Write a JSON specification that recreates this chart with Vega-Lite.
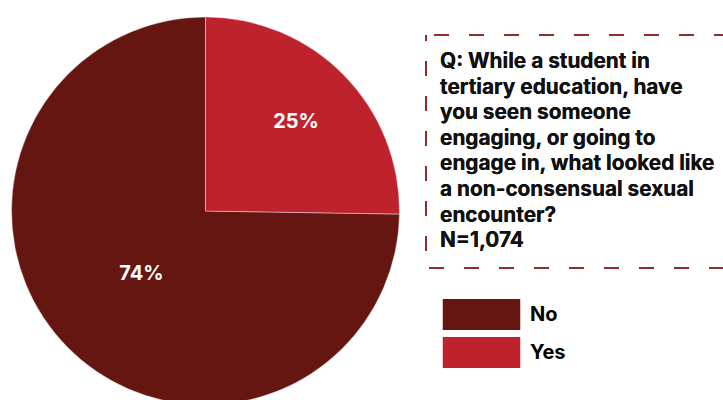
{
  "$schema": "https://vega.github.io/schema/vega-lite/v6.json",
  "width": 723,
  "height": 400,
  "autosize": {"type": "none"},
  "padding": 0,
  "background": "#ffffff",
  "config": {"view": {"stroke": null}},
  "data": {"values": [
    {"category": "No", "value": 0.74},
    {"category": "Yes", "value": 0.25}
  ]},
  "layer": [
    {
      "mark": {"type": "arc", "outerRadius": 194, "x": 205.5, "y": 211, "stroke": "#ffffff", "strokeWidth": 0.4},
      "encoding": {
        "theta": {"field": "value", "type": "quantitative", "stack": true},
        "order": {"field": "category", "sort": "descending"},
        "color": {
          "field": "category", "type": "nominal",
          "scale": {"domain": ["No", "Yes"], "range": ["#661610", "#BE232D"]},
          "legend": {
            "orient": "none", "legendX": 466, "legendY": 299, "title": null,
            "symbolType": "M-2.5,-1H2.5V1H-2.5Z", "symbolSize": 961,
            "symbolStrokeWidth": 0, "symbolOpacity": 1,
            "labelOffset": 33, "labelFont": "Inter", "labelFontSize": 20,
            "labelFontWeight": "bold", "labelColor": "#000000", "rowPadding": 7
          }
        }
      }
    },
    {
      "mark": {"type": "text", "radius": 127, "x": 205.5, "y": 211, "font": "Inter", "fontSize": 20, "fontWeight": "bold", "color": "#ffffff", "baseline": "middle", "align": "center"},
      "encoding": {
        "theta": {"field": "value", "type": "quantitative", "stack": true},
        "order": {"field": "category", "sort": "descending"},
        "text": {"condition": {"test": "datum.category === 'Yes'", "field": "value", "format": ".0%"}, "value": ""}
      }
    },
    {
      "mark": {"type": "text", "radius": 90, "x": 205.5, "y": 211, "font": "Inter", "fontSize": 20, "fontWeight": "bold", "color": "#ffffff", "baseline": "middle", "align": "center"},
      "encoding": {
        "theta": {"field": "value", "type": "quantitative", "stack": true},
        "order": {"field": "category", "sort": "descending"},
        "text": {"condition": {"test": "datum.category === 'No'", "field": "value", "format": ".0%"}, "value": ""}
      }
    },
    {
      "mark": {"type": "rect", "x": 426, "x2": 760, "y": 35, "y2": 268, "fill": null, "filled": false, "stroke": "#8B1F1F", "strokeWidth": 1.5, "strokeDash": [15, 20], "strokeDashOffset": 27},
      "encoding": {}
    },
    {
      "mark": {"type": "text", "x": 440, "y": 62, "align": "left", "baseline": "middle", "font": "Inter", "fontSize": 20.8, "fontWeight": "bold", "color": "#111111", "lineHeight": 25.6,
        "text": ["Q: While a student in", "tertiary education, have", "you seen someone", "engaging, or going to", "engage in, what looked like", "a non-consensual sexual", "encounter?", "N=1,074"]},
      "encoding": {}
    }
  ]
}
